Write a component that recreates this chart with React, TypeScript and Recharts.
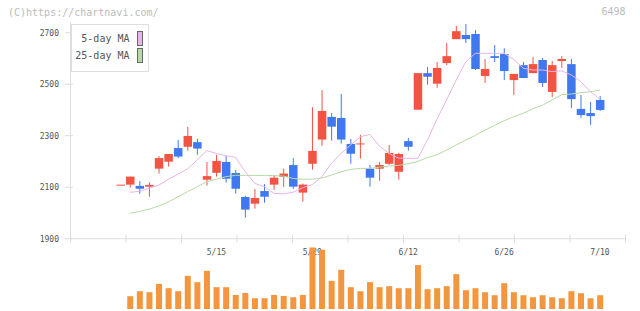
import { ComposedChart, Bar, Line, XAxis, YAxis, Legend } from 'recharts'

const dates = [
  '4/26', '4/30', '5/1', '5/2', '5/7', '5/8', '5/9', '5/10', '5/13', '5/14',
  '5/15', '5/16', '5/17', '5/20', '5/21', '5/22', '5/23', '5/24', '5/27', '5/28',
  '5/29', '5/30', '5/31', '6/3', '6/4', '6/5', '6/6', '6/7', '6/10', '6/11',
  '6/12', '6/13', '6/14', '6/17', '6/18', '6/19', '6/20', '6/21', '6/24', '6/25',
  '6/26', '6/27', '6/28', '7/1', '7/2', '7/3', '7/4', '7/5', '7/8', '7/9', '7/10',
]
const labelDates = ['5/15', '5/29', '6/12', '6/26', '7/10']

const opens = [
  2110, 2110, 2105, 2102, 2172, 2199, 2252, 2257, 2275, 2129,
  2156, 2198, 2155, 2062, 2036, 2085, 2110, 2140, 2186, 2079,
  2191, 2285, 2373, 2369, 2268, 2268, 2172, 2172, 2191, 2160,
  2279, 2401, 2543, 2502, 2582, 2675, 2691, 2695, 2532, 2609,
  2617, 2516, 2574, 2543, 2594, 2470, 2590, 2578, 2404, 2388, 2439,
]
const highs = [
  2110, 2141, 2124, 2119, 2221, 2229, 2283, 2334, 2288, 2198,
  2226, 2221, 2167, 2067, 2093, 2112, 2145, 2172, 2213, 2114,
  2411, 2477, 2388, 2462, 2287, 2303, 2187, 2198, 2264, 2233,
  2291, 2543, 2567, 2586, 2660, 2726, 2734, 2710, 2598, 2652,
  2640, 2540, 2586, 2606, 2602, 2590, 2609, 2598, 2458, 2431, 2454,
]
const lows = [
  2110, 2098, 2075, 2063, 2153, 2180, 2213, 2242, 2226, 2106,
  2141, 2118, 2075, 1982, 2017, 2040, 2090, 2101, 2093, 2044,
  2168, 2261, 2281, 2269, 2191, 2211, 2102, 2125, 2186, 2129,
  2242, 2401, 2498, 2486, 2574, 2675, 2660, 2555, 2505, 2586,
  2516, 2458, 2524, 2543, 2489, 2450, 2563, 2407, 2369, 2342, 2396,
]
const closes = [
  2110, 2141, 2094, 2109, 2213, 2229, 2219, 2299, 2250, 2143,
  2202, 2133, 2094, 2013, 2058, 2063, 2137, 2153, 2102, 2110,
  2241, 2396, 2335, 2285, 2230, 2270, 2137, 2186, 2233, 2229,
  2257, 2543, 2529, 2563, 2609, 2706, 2675, 2559, 2559, 2602,
  2551, 2540, 2524, 2578, 2505, 2574, 2598, 2442, 2380, 2376, 2400,
]
const volumes = [
  0, 13000, 18000, 17000, 25300, 21000, 18000, 33300, 27000, 38300,
  22000, 22000, 14300, 16300, 11000, 11000, 14300, 13300, 12000, 14300,
  61700, 59300, 28300, 39300, 22000, 18000, 27000, 22000, 23000, 21000,
  21000, 44000, 20000, 21000, 23000, 35000, 19000, 21000, 17000, 14000,
  26000, 17000, 14000, 12000, 14000, 12000, 11000, 18000, 16000, 11000, 14000,
]
const ma5 = [
  null, 2080, 2084, 2096, 2108, 2131, 2151, 2171, 2206, 2242,
  2231, 2222, 2216, 2160, 2115, 2102, 2076, 2074, 2080, 2098,
  2110, 2141, 2193, 2231, 2264, 2296, 2305, 2260, 2231, 2213,
  2212, 2212, 2283, 2364, 2439, 2516, 2587, 2620, 2620, 2620,
  2620, 2596, 2562, 2555, 2555, 2549, 2552, 2536, 2510, 2471, 2442,
]
const ma25 = [
  null, 1999, 2006, 2015, 2027, 2043, 2063, 2083, 2102, 2121,
  2131, 2141, 2146, 2146, 2146, 2146, 2145, 2143, 2134, 2131,
  2131, 2136, 2147, 2160, 2169, 2173, 2173, 2178, 2182, 2185,
  2191, 2200, 2215, 2226, 2244, 2264, 2283, 2301, 2322, 2340,
  2358, 2374, 2387, 2405, 2418, 2439, 2459, 2462, 2467, 2471, 2477,
]
const priceTicks = [1900, 2100, 2300, 2500, 2700]
const gridTicks = [0, 1, 2, 3, 4, 5, 6, 7, 8, 9, 10]

const RED = '#f25443'
const BLUE = '#4079ef'
const ORANGE = '#f2973f'
const PINK = '#e8b4ea'
const GREEN = '#b6d9a6'
const AXIS = '#dddddd'
const MONO = "'DejaVu Sans Mono', monospace"

const data = dates.map((date, i) => ({
  date,
  open: opens[i],
  high: highs[i],
  low: lows[i],
  close: closes[i],
  range: [lows[i], highs[i]],
  volume: volumes[i],
  ma5: ma5[i],
  ma25: ma25[i],
}))

const PAD = { left: 45.2, right: 20.7 }

function Candle(props: any) {
  const { x, y, width, height, payload } = props
  const { open, close, high, low } = payload
  const color = close >= open ? RED : BLUE
  const cx = x + width / 2
  const ratio = high > low ? height / (high - low) : 0
  const yOf = (v: number) => y + (high - v) * ratio
  const top = yOf(Math.max(open, close))
  const bottom = yOf(Math.min(open, close))
  const bw = 8.5
  return (
    <g>
      <line x1={cx} x2={cx} y1={yOf(high)} y2={yOf(low)} stroke={color} strokeWidth={1} />
      <rect x={cx - bw / 2} y={top} width={bw} height={Math.max(bottom - top, 1)} fill={color} />
    </g>
  )
}

function VolBar(props: any) {
  const { x, y, width, height } = props
  if (!height || height <= 0) return null
  return <rect x={x + width / 2 - 3} y={y} width={6} height={height} fill={ORANGE} />
}

function YTick(props: any) {
  const { x, y, payload } = props
  return (
    <g>
      <line x1={x - 5.5} x2={x + 2.5} y1={y} y2={y} stroke={AXIS} />
      <text x={x - 11.5} y={y} dy={3} textAnchor="end" fontSize={8} fontFamily={MONO} fill="#555">
        {payload.value}
      </text>
    </g>
  )
}

function GridTick(props: any) {
  const { x, y } = props
  return <line x1={x} x2={x} y1={y - 4} y2={y + 4} stroke={AXIS} />
}

function DateTick(props: any) {
  const { x, y, payload } = props
  return (
    <text x={x} y={y + 16.5} textAnchor="middle" fontSize={8} fontFamily={MONO} fill="#555">
      {payload.value}
    </text>
  )
}

function LegendBox(props: any) {
  const items = (props.payload || []).filter((p: any) => p.dataKey === 'ma5' || p.dataKey === 'ma25')
  return (
    <div
      style={{
        position: 'relative',
        width: 78,
        height: 48,
        boxSizing: 'border-box',
        border: `1px solid ${AXIS}`,
        background: '#fff',
      }}
    >
      {items.map((item: any, i: number) => (
        <div key={item.dataKey}>
          <span
            style={{
              position: 'absolute',
              right: 18,
              top: 6 + i * 17,
              lineHeight: '15px',
              fontSize: 10,
              fontFamily: MONO,
              color: '#555',
              whiteSpace: 'nowrap',
            }}
          >
            {item.value}
          </span>
          <span
            style={{
              position: 'absolute',
              left: 65,
              top: 6 + i * 17,
              width: 6,
              height: 15,
              boxSizing: 'border-box',
              border: '1px solid #666',
              background: item.color,
            }}
          />
        </div>
      ))}
    </div>
  )
}

export default function App() {
  return (
    <div style={{ position: 'absolute', left: 0, top: 0, width: 640, height: 311, background: '#fff' }}>
      <div
        style={{
          position: 'absolute',
          left: 8,
          top: 7,
          fontSize: 10,
          lineHeight: '12px',
          fontFamily: MONO,
          color: '#bbb',
        }}
      >
        (C)https://chartnavi.com/
      </div>
      <div
        style={{
          position: 'absolute',
          right: 14.5,
          top: 6,
          fontSize: 10,
          lineHeight: '12px',
          fontFamily: MONO,
          color: '#bbb',
        }}
      >
        6498
      </div>
      <div style={{ position: 'absolute', left: 0, top: 0 }}>
        <ComposedChart width={640} height={311} data={data} margin={{ top: 22.4, right: 14.5, left: 0, bottom: 72.28 }}>
          <XAxis
            xAxisId="grid"
            dataKey="tick"
            type="number"
            domain={[0, 10]}
            ticks={gridTicks}
            allowDataOverflow
            interval={0}
            height={0.01}
            tickSize={0}
            tickMargin={0}
            tickLine={false}
            axisLine={{ stroke: AXIS }}
            tick={<GridTick />}
          />
          <XAxis
            xAxisId="cat"
            dataKey="date"
            type="category"
            padding={PAD}
            ticks={labelDates}
            interval={0}
            height={0.01}
            tickSize={0}
            tickMargin={0}
            tickLine={false}
            axisLine={false}
            tick={<DateTick />}
          />
          <YAxis
            yAxisId="p"
            width={70.5}
            domain={[1900, 2740]}
            ticks={priceTicks}
            allowDataOverflow
            interval={0}
            tickSize={0}
            tickMargin={0}
            tickLine={false}
            axisLine={{ stroke: AXIS }}
            tick={<YTick />}
          />
          <Line
            xAxisId="cat"
            yAxisId="p"
            dataKey="ma25"
            name="25-day MA"
            stroke={GREEN}
            strokeWidth={1}
            dot={false}
            isAnimationActive={false}
          />
          <Line
            xAxisId="cat"
            yAxisId="p"
            dataKey="ma5"
            name="5-day MA"
            stroke={PINK}
            strokeWidth={1}
            dot={false}
            isAnimationActive={false}
          />
          <Bar
            xAxisId="cat"
            yAxisId="p"
            dataKey="range"
            barCategoryGap={0}
            legendType="none"
            shape={<Candle />}
            isAnimationActive={false}
          />
          <Legend
            layout="vertical"
            align="center"
            verticalAlign="middle"
            wrapperStyle={{ left: 70.5, top: 24, width: 78, height: 48 }}
            content={(p: any) => <LegendBox payload={[...(p.payload || [])].reverse()} />}
          />
        </ComposedChart>
      </div>
      <div style={{ position: 'absolute', left: 0, top: 0, pointerEvents: 'none' }}>
        <ComposedChart width={640} height={311} data={data} margin={{ top: 247.3, right: 14.5, left: 70.5, bottom: 1.7 }}>
          <XAxis xAxisId="cat" dataKey="date" type="category" padding={PAD} hide />
          <YAxis yAxisId="v" domain={[0, 61700]} allowDataOverflow hide />
          <Bar
            xAxisId="cat"
            yAxisId="v"
            dataKey="volume"
            barCategoryGap={0}
            shape={<VolBar />}
            isAnimationActive={false}
          />
        </ComposedChart>
      </div>
    </div>
  )
}
